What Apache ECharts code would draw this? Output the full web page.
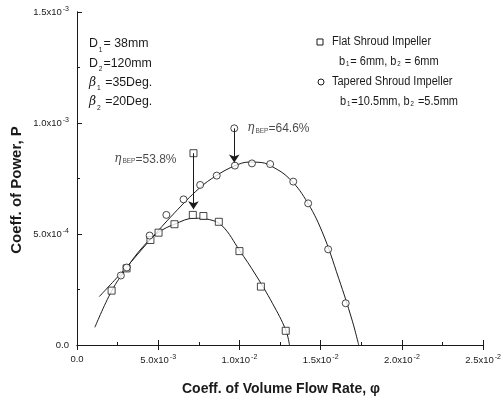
<!DOCTYPE html>
<html><head><meta charset="utf-8">
<script src="https://cdn.jsdelivr.net/npm/echarts@6/dist/echarts.min.js"></script>
<style>html,body{margin:0;padding:0;background:#fff}#c{width:504px;height:405px}</style>
</head><body><div id="c"></div>
<script>
// ---- data ----
const xTickLabels = ['0.0', '5.0x10{s|-3}', '1.0x10{s|-2}', '1.5x10{s|-2}', '2.0x10{s|-2}', '2.5x10{s|-2}'];
const yTickLabels = ['0.0', '5.0x10{s|-4}', '1.0x10{s|-3}', '1.5x10{s|-3}'];

// Flat shroud impeller: measured points
const flatPhi = [0.00213, 0.00305, 0.00452, 0.00502, 0.00600, 0.00713, 0.00778, 0.00873, 0.01000, 0.01132, 0.01285];
const flatP   = [0.000245, 0.000345, 0.000473, 0.000506, 0.000544, 0.000586, 0.000581, 0.000555, 0.000423, 0.000263, 0.000064];
// Flat shroud impeller: fitted curve
const flatFitPhi = [0.00110, 0.00213, 0.00306, 0.00404, 0.00502, 0.00600, 0.00723, 0.00815, 0.00895, 0.00999, 0.01101, 0.01203, 0.01285, 0.01308];
const flatFitP   = [0.0000797, 0.000243, 0.000347, 0.000441, 0.000507, 0.000544, 0.000571, 0.000565, 0.000536, 0.000428, 0.000315, 0.000188, 0.0000676, 0.0];

// Tapered shroud impeller: measured points
const taperPhi = [0.00270, 0.00306, 0.00447, 0.00550, 0.00656, 0.00758, 0.00860, 0.00972, 0.01077, 0.01189, 0.01331, 0.01423, 0.01546, 0.01654];
const taperP   = [0.000313, 0.000349, 0.000493, 0.000586, 0.000656, 0.000721, 0.000763, 0.000808, 0.000818, 0.000815, 0.000736, 0.000638, 0.000431, 0.000188];
// Tapered shroud impeller: fitted curve
const taperFitPhi = [0.00137, 0.00294, 0.00447, 0.00600, 0.00754, 0.00858, 0.00968, 0.01060, 0.01134, 0.01203, 0.01305, 0.01407, 0.01509, 0.01611, 0.01693, 0.01734];
const taperFitP   = [0.000218, 0.000342, 0.000471, 0.000595, 0.000707, 0.000763, 0.000806, 0.000824, 0.000822, 0.000803, 0.000751, 0.000656, 0.000510, 0.000300, 0.000113, 0.0];

// BEP annotation arrows: [start phi, start P, end phi, end P]
const flatBEP  = [0.00717, 0.000864, 0.00717, 0.000612];
const taperBEP = [0.00968, 0.000976, 0.00968, 0.000822];
const flatBEPLabel = '53.8%';
const taperBEPLabel = '64.6%';

// ---- chart ----
const zip = (a, b) => a.map((v, i) => [v, b[i]]);
const SANS = '"Liberation Sans", Arial, sans-serif';
const INK = '#1a1a1a';
const SX = 0.88; // reference text is condensed

const chart = echarts.init(document.getElementById('c'), null, {renderer: 'canvas'});

const tickRich = {s: {fontSize: 7, verticalAlign: 'top', padding: [0, 0, 6, 1], fontFamily: SANS, color: INK}};

function arrowLine(a) {
  return [{coord: [a[0], a[1]]}, {coord: [a[2], a[3]]}];
}
const subRich = {s: {fontSize: 7, fontFamily: SANS, verticalAlign: 'bottom', padding: [6, 1, 0, 1]}};

const option = {
  animation: false,
  backgroundColor: '#fff',
  grid: {left: 77, right: 19, top: 12, bottom: 60},
  xAxis: [{
    type: 'value', min: 0, max: 0.025, interval: 0.005,
    axisLine: {lineStyle: {color: INK, width: 1}},
    axisTick: {inside: true, length: 5, lineStyle: {color: INK}},
    minorTick: {show: true, splitNumber: 2, length: 3, lineStyle: {color: INK}},
    splitLine: {show: false},
    axisLabel: {
      margin: 9, color: INK, fontSize: 9.5, fontFamily: SANS,
      formatter: v => xTickLabels[Math.round(v / 0.005)], rich: tickRich
    }
  }, {
    type: 'value', min: 0, max: 0.025, interval: 0.005, position: 'top',
    axisLine: {show: true, lineStyle: {color: INK, width: 1}},
    axisTick: {show: true, inside: true, length: 5, lineStyle: {color: INK}},
    axisLabel: {show: false}, splitLine: {show: false}
  }],
  yAxis: [{
    type: 'value', min: 0, max: 0.0015, interval: 0.0005,
    axisLine: {show: true, lineStyle: {color: INK, width: 1}},
    axisTick: {show: true, inside: true, length: 5, lineStyle: {color: INK}},
    minorTick: {show: true, splitNumber: 2, length: 3, lineStyle: {color: INK}},
    splitLine: {show: false},
    axisLabel: {
      margin: 8, color: INK, fontSize: 9.5, fontFamily: SANS,
      formatter: v => yTickLabels[Math.round(v / 0.0005)], rich: tickRich
    }
  }, {
    type: 'value', min: 0, max: 0.0015, interval: 0.0005, position: 'right',
    axisLine: {show: true, lineStyle: {color: INK, width: 1}},
    axisTick: {show: false}, axisLabel: {show: false}, splitLine: {show: false}
  }],
  series: [
    {
      type: 'line', data: zip(flatFitPhi, flatFitP), smooth: 0.4, showSymbol: false,
      lineStyle: {color: INK, width: 1}, silent: true, z: 2
    },
    {
      type: 'line', data: zip(taperFitPhi, taperFitP), smooth: 0.4, showSymbol: false,
      lineStyle: {color: INK, width: 1}, silent: true, z: 2
    },
    {
      type: 'scatter', data: zip(flatPhi, flatP), symbol: 'rect', symbolSize: 7,
      itemStyle: {color: '#fff', borderColor: INK, borderWidth: 1}, z: 3
    },
    {
      type: 'scatter', data: zip(taperPhi, taperP), symbol: 'circle', symbolSize: 7,
      itemStyle: {color: '#fff', borderColor: INK, borderWidth: 1}, z: 3
    },
    {
      type: 'scatter', data: [[flatBEP[0], flatBEP[1]]], symbol: 'rect', symbolSize: 7,
      itemStyle: {color: '#fff', borderColor: INK, borderWidth: 1}, z: 4,
      markLine: {
        silent: true, symbol: ['none', 'arrow'], symbolSize: 8,
        lineStyle: {color: INK, width: 1, type: 'solid'}, label: {show: false},
        data: [arrowLine(flatBEP)]
      },
      label: {
        show: true, position: 'left', distance: 13, offset: [0, 6],
        formatter: '{e|η}{b|BEP}{t|=' + flatBEPLabel + '}',
        rich: {
          e: {fontSize: 12, fontFamily: 'DejaVu Serif', fontStyle: 'italic', color: INK},
          b: {fontSize: 6.5, fontFamily: SANS, color: INK, verticalAlign: 'bottom', padding: [5, 0, 0, 1]},
          t: {fontSize: 12, fontFamily: SANS, color: INK}
        }
      }
    },
    {
      type: 'scatter', data: [[taperBEP[0], taperBEP[1]]], symbol: 'circle', symbolSize: 7,
      itemStyle: {color: '#fff', borderColor: INK, borderWidth: 1}, z: 4,
      markLine: {
        silent: true, symbol: ['none', 'arrow'], symbolSize: 8,
        lineStyle: {color: INK, width: 1, type: 'solid'}, label: {show: false},
        data: [arrowLine(taperBEP)]
      },
      label: {
        show: true, position: 'right', distance: 9, offset: [0, 0],
        formatter: '{e|η}{b|BEP}{t|=' + taperBEPLabel + '}',
        rich: {
          e: {fontSize: 12, fontFamily: 'DejaVu Serif', fontStyle: 'italic', color: INK},
          b: {fontSize: 6.5, fontFamily: SANS, color: INK, verticalAlign: 'bottom', padding: [5, 0, 0, 1]},
          t: {fontSize: 12, fontFamily: SANS, color: INK}
        }
      }
    }
  ],
  graphic: [
    // axis titles
    {type: 'text', x: 281, y: 382, z: 10,
      style: {text: 'Coeff. of Volume Flow Rate, φ', font: 'bold 14px ' + SANS, fill: INK, align: 'center'}},
    {type: 'text', x: 9, y: 190, rotation: Math.PI / 2, z: 10,
      style: {text: 'Coeff. of Power, P', font: 'bold 15px ' + SANS, fill: INK, align: 'center', verticalAlign: 'top'}},
    // parameter block
    {type: 'text', x: 89, y: 34, z: 10, scaleX: 0.95, style: {
      text: 'D{s|1}= 38mm\nD{s|2}=120mm\n{g|β}{s|1} =35Deg.\n{g|β}{s|2} =20Deg.',
      font: '13px ' + SANS, fill: INK, lineHeight: 19.3,
      rich: {
        s: {fontSize: 7, fontFamily: SANS, verticalAlign: 'bottom', padding: [6, 1, 0, 1], lineHeight: 19.3},
        g: {fontSize: 13, fontFamily: 'DejaVu Serif', fontStyle: 'italic', lineHeight: 19.3}
      }
    }},
    // legend
    {type: 'rect', shape: {x: 317, y: 39, width: 6, height: 6}, style: {fill: '#fff', stroke: INK, lineWidth: 1}, z: 10},
    {type: 'circle', shape: {cx: 321, cy: 82, r: 3}, style: {fill: '#fff', stroke: INK, lineWidth: 1}, z: 10},
    {type: 'text', x: 332, y: 35, z: 10, scaleX: SX, style: {text: 'Flat Shroud Impeller', font: '12.5px ' + SANS, fill: INK}},
    {type: 'text', x: 339, y: 55, z: 10, scaleX: SX, style: {
      text: 'b{s|1}= 6mm, b{s|2} = 6mm', font: '12.5px ' + SANS, fill: INK, rich: subRich
    }},
    {type: 'text', x: 332, y: 75, z: 10, scaleX: SX, style: {text: 'Tapered Shroud Impeller', font: '12.5px ' + SANS, fill: INK}},
    {type: 'text', x: 340, y: 95, z: 10, scaleX: SX, style: {
      text: 'b{s|1}=10.5mm, b{s|2} =5.5mm', font: '12.5px ' + SANS, fill: INK, rich: subRich
    }}
  ]
};
chart.setOption(option);
</script>
</body></html>
